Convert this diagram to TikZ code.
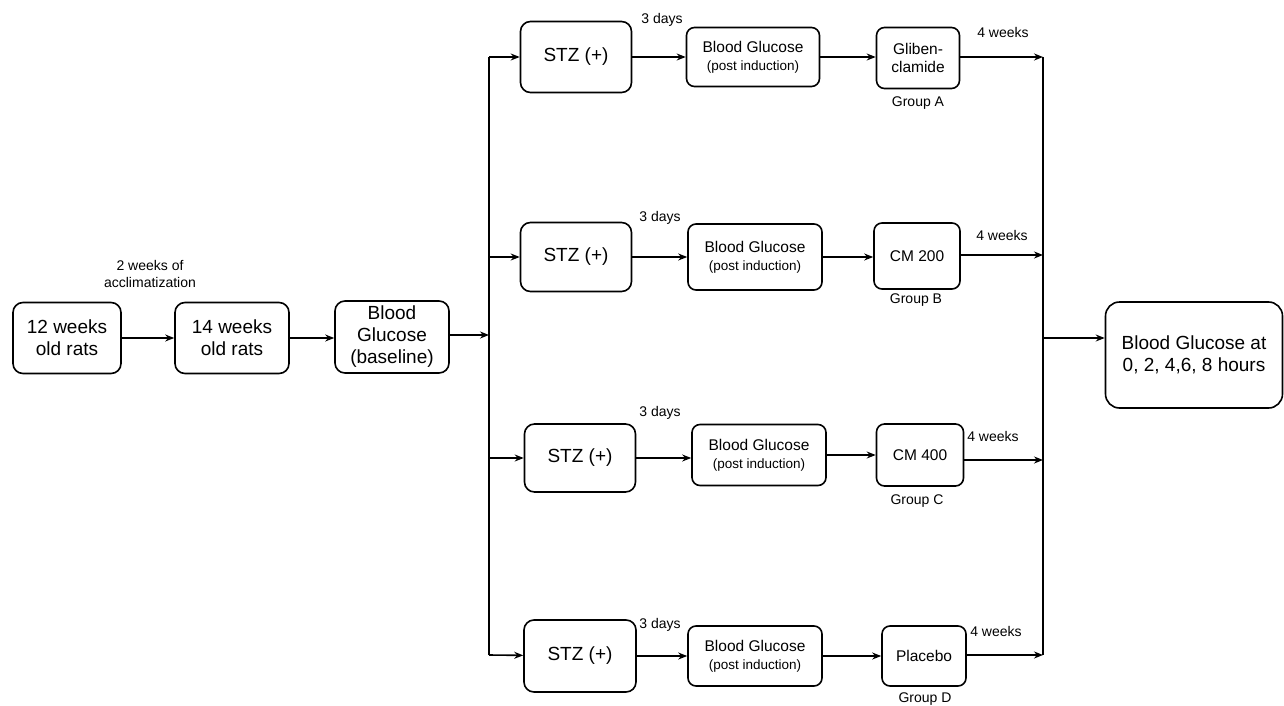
\documentclass[tikz,border=0pt]{standalone}
\usepackage{fontspec}
\setmainfont{Liberation Sans}
\usetikzlibrary{arrows.meta}
\begin{document}
\begin{tikzpicture}[x=1pt,y=-1pt,>={Stealth[length=9pt,width=7pt]},line width=1.6pt]
  \tikzset{
    bigbox/.style={draw,rounded corners=10pt,align=center,inner sep=0pt,font=\fontsize{19}{22}\selectfont},
    smallbox/.style={draw,rounded corners=8pt,align=center,inner sep=0pt,font=\fontsize{15.5}{18}\selectfont},
    note/.style={align=center,inner sep=0pt,font=\fontsize{14}{17}\selectfont},
  }
  \useasboundingbox (0,0) rectangle (1284,706);
  % left chain
  \node[bigbox,minimum width=108pt,minimum height=71pt] (r12) at (67,338) {12 weeks\\old rats};
  \node[bigbox,minimum width=114pt,minimum height=71pt] (r14) at (232,338) {14 weeks\\old rats};
  \node[bigbox,minimum width=114pt,minimum height=72pt] (base) at (392,337) {Blood\\Glucose\\(baseline)};
  \node[note] (accl) at (150,274) {2 weeks of\\acclimatization};
  \draw[->] (r12.east |- r12) -- (r14.west |- r12);
  \draw[->] (r14) -- (base.west |- r14);
  % spine
  \coordinate (jin) at (489,335);
  \coordinate (sA) at (489,57);
  \coordinate (sB) at (489,257);
  \coordinate (sC) at (489,458);
  \coordinate (sD) at (489,655);
  \draw[->] (base.east |- jin) -- (jin);
  \draw (sA) -- (sD);
  % groups
  \node[bigbox,minimum width=111pt,minimum height=71pt] (stzA) at (576,57) {STZ (+)};
  \node[bigbox,minimum width=111pt,minimum height=69pt] (stzB) at (576,257) {STZ (+)};
  \node[bigbox,minimum width=111pt,minimum height=68pt] (stzC) at (580,458) {STZ (+)};
  \node[bigbox,minimum width=112pt,minimum height=72pt] (stzD) at (580,656) {STZ (+)};
  \node[smallbox,minimum width=133pt,minimum height=59pt] (bgA) at (753,57) {Blood Glucose\\{\fontsize{13.5}{16}\selectfont(post induction)}};
  \node[smallbox,minimum width=134pt,minimum height=66pt] (bgB) at (755,257) {Blood Glucose\\{\fontsize{13.5}{16}\selectfont(post induction)}};
  \node[smallbox,minimum width=134pt,minimum height=61pt] (bgC) at (759,455) {Blood Glucose\\{\fontsize{13.5}{16}\selectfont(post induction)}};
  \node[smallbox,minimum width=134pt,minimum height=60pt] (bgD) at (755,656) {Blood Glucose\\{\fontsize{13.5}{16}\selectfont(post induction)}};
  \node[smallbox,minimum width=83pt,minimum height=61pt] (drugA) at (918,58) {Gliben-\\clamide};
  \node[smallbox,minimum width=86pt,minimum height=66pt] (drugB) at (917,256) {CM 200};
  \node[smallbox,minimum width=87pt,minimum height=62pt] (drugC) at (920,455) {CM 400};
  \node[smallbox,minimum width=84pt,minimum height=60pt] (drugD) at (924,656) {Placebo};
  \node[note] (grA) at (918,103) {Group A};
  \node[note] (grB) at (916,300) {Group B};
  \node[note] (grC) at (917,501) {Group C};
  \node[note] (grD) at (925,699) {Group D};
  \node[note] (dA) at (662,20) {3 days};
  \node[note] (dB) at (660,218) {3 days};
  \node[note] (dC) at (660,413) {3 days};
  \node[note] (dD) at (660,625) {3 days};
  \node[note] (wA) at (1003,32) {4 weeks};
  \node[note] (wB) at (1002,235) {4 weeks};
  \node[note] (wC) at (993,436) {4 weeks};
  \node[note] (wD) at (996,631) {4 weeks};
  \draw[->] (sA) -- (stzA);
  \draw[->] (sB) -- (stzB);
  \draw[->] (sC) -- (stzC);
  \draw[->] (sD) -- (stzD);
  \draw[->] (stzA) -- (bgA);
  \draw[->] (stzB) -- (bgB);
  \draw[->] (stzC.east) -- (bgC.west |- stzC.east);
  \draw[->] (stzD) -- (bgD);
  \draw[->] (bgA) -- (drugA.west |- bgA);
  \draw[->] (bgB) -- (drugB.west |- bgB);
  \draw[->] (bgC) -- (drugC);
  \draw[->] (bgD) -- (drugD);
  % right spine
  \coordinate (tA) at (1043,57);
  \coordinate (tB) at (1043,255);
  \coordinate (tC) at (1043,460);
  \coordinate (tD) at (1043,655);
  \coordinate (tout) at (1043,338);
  \draw (tA) -- (tD);
  \draw[->] (drugA.east |- tA) -- (tA);
  \draw[->] (drugB.east |- tB) -- (tB);
  \draw[->] (drugC.east |- tC) -- (tC);
  \draw[->] (drugD.east |- tD) -- (tD);
  \node[bigbox,rounded corners=14pt,minimum width=177pt,minimum height=106pt] (final) at (1194,355) {Blood Glucose at\\0, 2, 4,6, 8 hours};
  \draw[->] (tout) -- (final.west |- tout);
\end{tikzpicture}
\end{document}
